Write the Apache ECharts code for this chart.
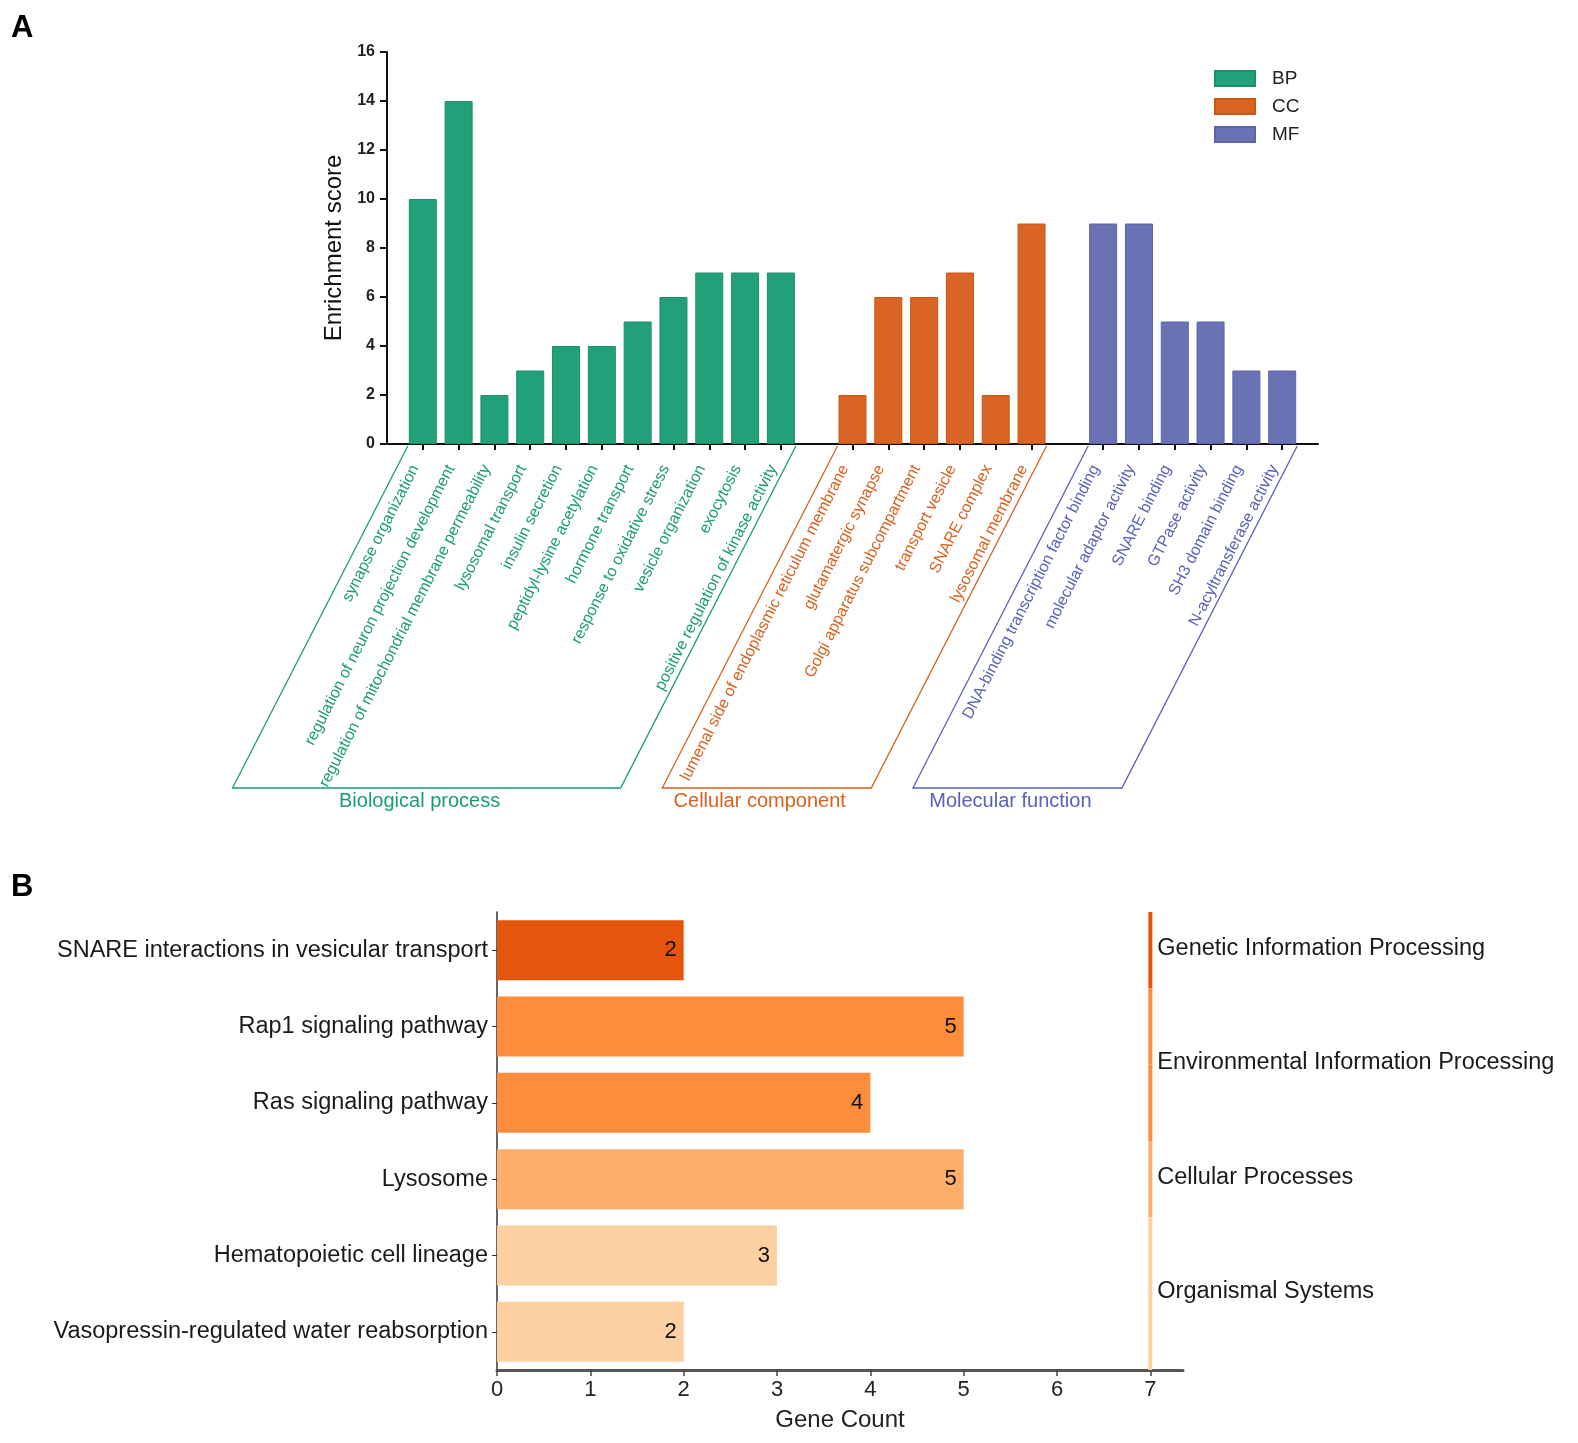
<!DOCTYPE html>
<html><head><meta charset="utf-8">
<script src="https://cdn.jsdelivr.net/npm/echarts@6/dist/echarts.min.js"></script>
<style>html,body{margin:0;padding:0;background:#fff}#c{width:1578px;height:1443px}</style>
</head><body><div id="c"></div>
<script>
// ---------- Panel A data ----------
const bpTerms = ['synapse organization','regulation of neuron projection development','regulation of mitochondrial membrane permeability','lysosomal transport','insulin secretion','peptidyl-lysine acetylation','hormone transport','response to oxidative stress','vesicle organization','exocytosis','positive regulation of kinase activity'];
const bpScores = [10,14,2,3,4,4,5,6,7,7,7];
const ccTerms = ['lumenal side of endoplasmic reticulum membrane','glutamatergic synapse','Golgi apparatus subcompartment','transport vesicle','SNARE complex','lysosomal membrane'];
const ccScores = [2,6,6,7,2,9];
const mfTerms = ['DNA-binding transcription factor binding','molecular adaptor activity','SNARE binding','GTPase activity','SH3 domain binding','N-acyltransferase activity'];
const mfScores = [9,9,5,5,3,3];
const goLegend = ['BP','CC','MF'];
const goGroupNames = ['Biological process','Cellular component','Molecular function'];
const yTicksA = [0,2,4,6,8,10,12,14,16];

// ---------- Panel B data ----------
const keggPathways = ['SNARE interactions in vesicular transport','Rap1 signaling pathway','Ras signaling pathway','Lysosome','Hematopoietic cell lineage','Vasopressin-regulated water reabsorption'];
const keggCounts = [2,5,4,5,3,2];
const keggClasses = ['Genetic Information Processing','Environmental Information Processing','Environmental Information Processing','Cellular Processes','Organismal Systems','Organismal Systems'];
const xTicksB = [0,1,2,3,4,5,6,7];

// ---------- styles ----------
const goFill = ['#22a07a','#d96424','#6b72b4'];
const goBorder = ['#1a8f6c','#cc5512','#5c62ad'];
const goText = ['#1a9c74','#d9601c','#5a60b8'];
const classColor = {
  'Genetic Information Processing':'#e6550d',
  'Environmental Information Processing':'#fd8d3c',
  'Cellular Processes':'#fdae6b',
  'Organismal Systems':'#fdd0a2'
};
const FONT = 'Liberation Sans, Arial, sans-serif';

// Build category axis for A: blank, BP..., blank, CC..., blank, MF..., blank
const groups = [bpTerms, ccTerms, mfTerms];
const groupScores = [bpScores, ccScores, mfScores];
const cats = [];
const catGroup = [];
const groupRange = [];
let blankN = 1;
cats.push(' '.repeat(blankN++)); catGroup.push(-1);
groups.forEach((g, gi) => {
  const start = cats.length;
  g.forEach(t => { cats.push(t); catGroup.push(gi); });
  groupRange.push([start, cats.length - 1]);
  cats.push(' '.repeat(blankN++)); catGroup.push(-1);
});
const seriesA = goLegend.map((name, gi) => {
  const data = cats.map(() => '-');
  groupScores[gi].forEach((v, k) => { data[groupRange[gi][0] + k] = v; });
  return {
    name, type: 'bar', xAxisIndex: 0, yAxisIndex: 0, stack: 'go',
    barWidth: 28, data,
    itemStyle: { color: goFill[gi], borderColor: goBorder[gi], borderWidth: 1 }
  };
});

const chart = echarts.init(document.getElementById('c'), null, { renderer: 'canvas' });
const option = {
  backgroundColor: '#fff',
  animation: false,
  textStyle: { fontFamily: FONT },
  legend: {
    data: goLegend, orient: 'vertical', left: 1209, top: 64,
    itemWidth: 40, itemHeight: 15, itemGap: 9, icon: 'rect',
    textStyle: { fontSize: 19, color: '#222', fontFamily: FONT, padding: [0,0,0,12] }
  },
  grid: [
    { left: 387, top: 52, width: 931, height: 392 },
    { left: 497, top: 912, width: 686, height: 458 }
  ],
  xAxis: [
    {
      gridIndex: 0, type: 'category', data: cats, boundaryGap: false,
      axisLine: { lineStyle: { color: '#111', width: 2 } },
      axisTick: { show: true, length: 6, lineStyle: { color: '#111', width: 2 },
        interval: (i, v) => v.trim() !== '' },
      axisLabel: { interval: 0, rotate: 63, margin: 18, fontSize: 16, fontFamily: FONT,
        verticalAlign: 'bottom', lineHeight: 10, padding: [0, 7, 0, 0],
        color: (v, i) => { const idx = cats.indexOf(v); return catGroup[idx] >= 0 ? goText[catGroup[idx]] : '#000'; } },
      splitLine: { show: false }
    },
    {
      gridIndex: 1, type: 'value', min: 0, max: 7.35, interval: 1,
      name: 'Gene Count', nameLocation: 'middle', nameGap: 38,
      nameTextStyle: { fontSize: 24, color: '#222', fontFamily: FONT },
      axisLine: { show: true, lineStyle: { color: '#555', width: 3 } },
      axisTick: { show: true, length: 6, customValues: xTicksB, lineStyle: { color: '#444', width: 1.5 } },
      axisLabel: { customValues: xTicksB, fontSize: 22, color: '#222', margin: 9, fontFamily: FONT },
      splitLine: { show: false }
    }
  ],
  yAxis: [
    {
      gridIndex: 0, type: 'value', min: 0, max: 16, interval: 2,
      name: 'Enrichment score', nameLocation: 'middle', nameGap: 40, nameRotate: 90,
      nameTextStyle: { fontSize: 24, color: '#111', fontFamily: FONT },
      axisLine: { show: true, lineStyle: { color: '#111', width: 2 } },
      axisTick: { show: true, length: 7, lineStyle: { color: '#111', width: 2 } },
      axisLabel: { fontSize: 16, fontWeight: 'bold', color: '#222', margin: 12, fontFamily: FONT },
      splitLine: { show: false }
    },
    {
      gridIndex: 1, type: 'category', data: keggPathways, inverse: true,
      axisLine: { show: true, lineStyle: { color: '#333', width: 1.5 } },
      axisTick: { show: true, length: 5, alignWithLabel: true, lineStyle: { color: '#333' } },
      axisLabel: { fontSize: 23.5, color: '#1a1a1a', margin: 9, fontFamily: FONT },
      splitLine: { show: false }
    }
  ],
  series: seriesA.concat([
    {
      name: 'KEGG', type: 'bar', xAxisIndex: 1, yAxisIndex: 1,
      barWidth: 60,
      data: keggCounts.map((v, i) => ({ value: v, itemStyle: { color: classColor[keggClasses[i]] } })),
      label: { show: true, position: 'insideRight', distance: 7, fontSize: 22, color: '#111', fontFamily: FONT }
    },
    {
      name: 'KEGG class', type: 'custom', xAxisIndex: 1, yAxisIndex: 1, clip: false,
      data: keggClasses.map((c, i) => [xTicksB[xTicksB.length - 1], i]),
      renderItem: (params, api) => {
        const i = params.dataIndex;
        const cls = keggClasses[i];
        const pt = api.coord([api.value(0), i]);
        const h = api.size([0, 1])[1];
        const children = [{
          type: 'rect',
          shape: { x: pt[0] - 2, y: pt[1] - h / 2, width: 4, height: h },
          style: { fill: classColor[cls] }
        }];
        if (i === 0 || keggClasses[i - 1] !== cls) {
          let last = i;
          while (last + 1 < keggClasses.length && keggClasses[last + 1] === cls) last++;
          const pLast = api.coord([api.value(0), last]);
          children.push({
            type: 'text',
            style: { text: cls, x: pt[0] + 7, y: (pt[1] + pLast[1]) / 2 - 2,
              fill: '#1a1a1a', font: '23.5px ' + FONT, textAlign: 'left', textVerticalAlign: 'middle' }
          });
        }
        return { type: 'group', children };
      }
    }
  ])
};
chart.setOption(option);

// Group brackets (parallelograms) for panel A, computed from the axis scale
const graphics = [
  { type: 'text', left: 11, top: 13, style: { text: 'A', font: 'bold 31px ' + FONT, fill: '#000' } },
  { type: 'text', left: 11, top: 872, style: { text: 'B', font: 'bold 31px ' + FONT, fill: '#000' } }
];
const drop = 344;
const shift = drop / Math.tan(63 * Math.PI / 180);
groupRange.forEach((r, gi) => {
  const p0 = chart.convertToPixel({ xAxisIndex: 0, yAxisIndex: 0 }, [r[0], 0]);
  const p1 = chart.convertToPixel({ xAxisIndex: 0, yAxisIndex: 0 }, [r[1], 0]);
  const tl = [p0[0] - 15, p0[1] + 2];
  const tr = [p1[0] + 15, p1[1] + 2];
  const by = p0[1] + drop;
  const bl = [tl[0] - shift, by];
  const br = [tr[0] - shift, by];
  graphics.push({
    type: 'polyline', silent: true,
    shape: { points: [tl, bl, br, tr] },
    style: { stroke: goText[gi], lineWidth: 1.3, fill: null }
  });
  graphics.push({
    type: 'text', silent: true,
    x: (bl[0] + br[0]) / 2 - 7, y: by + 13,
    style: { text: goGroupNames[gi], font: '20px ' + FONT, fill: goText[gi], textAlign: 'center', textVerticalAlign: 'middle' }
  });
});
chart.setOption({ graphic: graphics });
</script>
</body></html>
